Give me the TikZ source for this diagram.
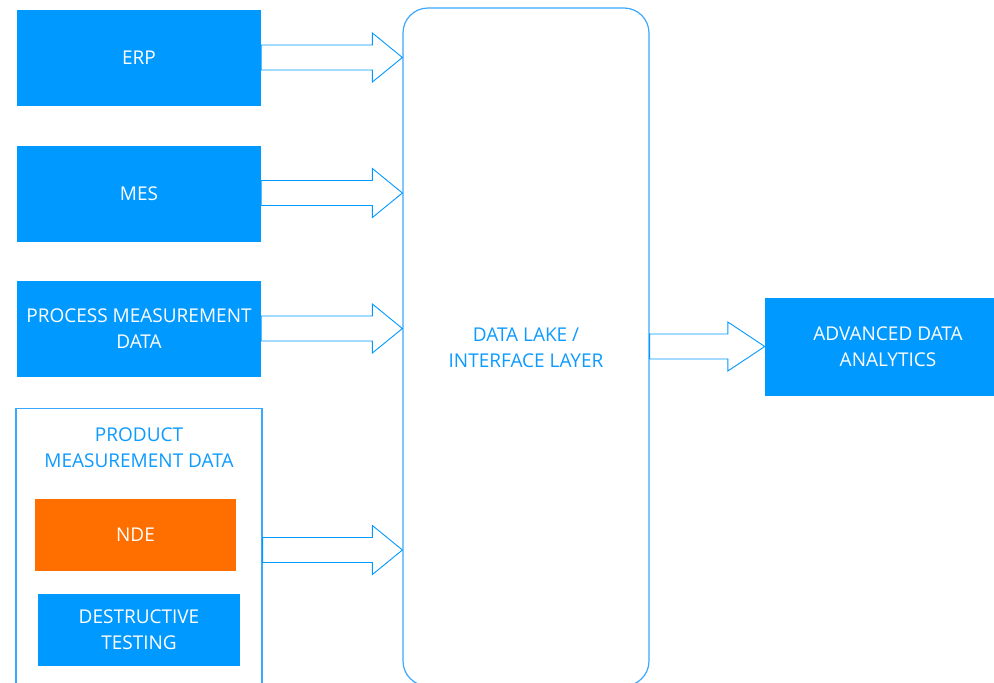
\documentclass[tikz,border=0pt]{standalone}
\usepackage{fontspec}
\setmainfont{Open Sans}
\usetikzlibrary{calc}
\definecolor{fillblue}{HTML}{0099FF}
\definecolor{lineblue}{HTML}{3AA8FF}
\definecolor{textblue}{HTML}{0D9BFF}
\definecolor{ndeorange}{HTML}{FF6F00}
\tikzset{
  solidbox/.style={rectangle, fill=fillblue, draw=none, text=white, align=center, inner sep=0pt},
  framebox/.style={rectangle, draw=lineblue, line width=1.2pt, fill=white, inner sep=0pt},
  bluetext/.style={text=textblue, align=center, inner sep=0pt},
  barrow/.style={draw=fillblue, line width=0.9pt, fill=white, line join=miter},
}
% #1 start point, #2 tip point, #3 head length
\newcommand{\blockarr}[3]{%
  \draw[barrow] let \p1=(#1), \p2=(#2) in
    (\x1,\y1+12.5pt) -- (\x2-#3pt,\y1+12.5pt) -- (\x2-#3pt,\y1+24.5pt) -- (\x2,\y1)
    -- (\x2-#3pt,\y1-24.5pt) -- (\x2-#3pt,\y1-12.5pt) -- (\x1,\y1-12.5pt) -- cycle;}
\begin{document}
\begin{tikzpicture}[x=1pt,y=-1pt, font=\fontsize{19}{26}\selectfont]
\useasboundingbox (0,0) rectangle (994,683);
\clip (0,0) rectangle (994,683);
% left sources
\node[solidbox, minimum width=244pt, minimum height=96pt] (erp) at (139,57.5) {ERP};
\node[solidbox, minimum width=244pt, minimum height=96pt] (mes) at (139,193.5) {MES};
\node[solidbox, minimum width=244pt, minimum height=96pt] (pmd) at (139,329) {PROCESS MEASUREMENT\\DATA};
% product measurement group
\node[framebox, minimum width=246pt, minimum height=300pt, anchor=north] (prod) at (139,408) {};
\node[bluetext] (prodlabel) at (139,447.5) {PRODUCT\\MEASUREMENT DATA};
\node[solidbox, fill=ndeorange, minimum width=201pt, minimum height=72pt] (nde) at (135.5,534.5) {NDE};
\node[solidbox, minimum width=202pt, minimum height=72pt] (dt) at (139,629.5) {DESTRUCTIVE\\TESTING};
% data lake
\node[framebox, rounded corners=25pt, minimum width=246pt, minimum height=678pt] (lake) at (526,347) {};
\node[bluetext] (lakelabel) at (526,347.5) {DATA LAKE /\\INTERFACE LAYER};
% analytics
\node[solidbox, minimum width=246pt, minimum height=98pt] (ada) at (888,347) {ADVANCED DATA\\ANALYTICS};
% arrows
\coordinate (a1s) at (erp.east |- 0,57.5);
\coordinate (a1t) at (lake.west |- 0,57.5);
\coordinate (a2s) at (mes.east |- 0,193);
\coordinate (a2t) at (lake.west |- 0,193);
\coordinate (a3s) at (pmd.east |- 0,328.5);
\coordinate (a3t) at (lake.west |- 0,328.5);
\coordinate (a4s) at (prod.east |- 0,550);
\coordinate (a4t) at (lake.west |- 0,550);
\coordinate (a5s) at (lake.east |- 0,346.5);
\coordinate (a5t) at (ada.west |- 0,346.5);
\blockarr{a1s}{a1t}{30}
\blockarr{a2s}{a2t}{30}
\blockarr{a3s}{a3t}{30}
\blockarr{a4s}{a4t}{30}
\blockarr{a5s}{a5t}{37}
\end{tikzpicture}
\end{document}
